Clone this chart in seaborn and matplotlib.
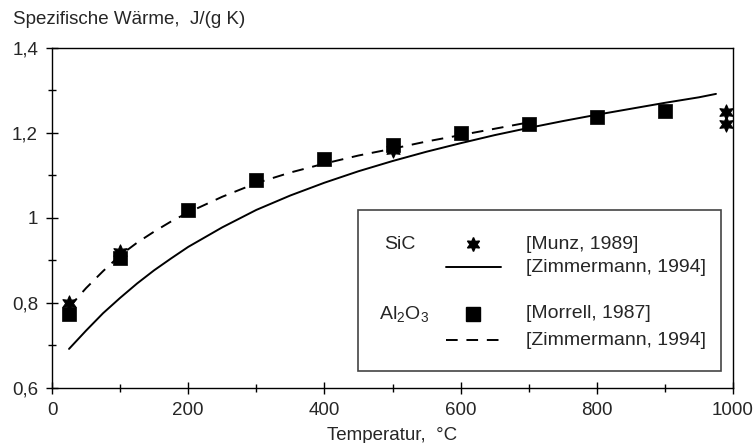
import matplotlib
matplotlib.use("Agg")
import matplotlib.pyplot as plt
import seaborn as sns
import pandas as pd
from matplotlib.patches import Rectangle
from matplotlib.lines import Line2D
from matplotlib.ticker import MultipleLocator

sns.set_style("white")
plt.rcParams['font.family'] = ['Liberation Sans', 'DejaVu Sans']

# SiC [Munz, 1989] (stars)
sic_munz_T = [25, 100, 500, 990, 990]
sic_munz_cp = [0.80, 0.92, 1.16, 1.25, 1.221]
# SiC [Zimmermann, 1994] (solid)
sic_zim_T = [25, 50, 75, 100, 125, 150, 175, 200, 250, 300, 350, 400, 450, 500,
             550, 600, 650, 700, 750, 800, 850, 900, 950, 975]
sic_zim_cp = [0.692, 0.735, 0.776, 0.812, 0.846, 0.877, 0.905, 0.932, 0.978, 1.019,
              1.053, 1.083, 1.110, 1.134, 1.156, 1.176, 1.195, 1.212, 1.228, 1.243,
              1.257, 1.271, 1.284, 1.292]
# Al2O3 [Morrell, 1987] (squares)
al_mor_T = [25, 100, 200, 300, 400, 500, 600, 700, 800, 900]
al_mor_cp = [0.775, 0.907, 1.019, 1.089, 1.138, 1.172, 1.199, 1.221, 1.238, 1.252]
# Al2O3 [Zimmermann, 1994] (dashed)
al_zim_T = [25, 50, 75, 100, 125, 150, 175, 200, 250, 300, 350, 400, 450, 500,
            550, 600, 650, 700]
al_zim_cp = [0.79, 0.835, 0.875, 0.912, 0.942, 0.968, 0.992, 1.013, 1.05, 1.082,
             1.107, 1.128, 1.147, 1.163, 1.18, 1.195, 1.21, 1.225]

yticks = [0.6, 0.8, 1.0, 1.2, 1.4]
ytick_labels = ["0,6", "0,8", "1", "1,2", "1,4"]
xticks = [0, 200, 400, 600, 800, 1000]
xtick_labels = ["0", "200", "400", "600", "800", "1000"]

fig = plt.figure(figsize=(7.54, 4.43), dpi=100)
ax = fig.add_axes([52/754, 55/443, 681/754, 340/443])

sns.lineplot(x=sic_zim_T, y=sic_zim_cp, ax=ax, color="black", lw=1.4)
sns.lineplot(x=al_zim_T, y=al_zim_cp, ax=ax, color="black", lw=1.4)
ax.lines[-1].set_dashes([6, 4.5])
sns.scatterplot(x=sic_munz_T, y=sic_munz_cp, ax=ax, marker=(6, 1, 0), s=120,
                color="black", edgecolor="black", linewidth=0.8, zorder=3)
sns.scatterplot(x=al_mor_T, y=al_mor_cp, ax=ax, marker="s", s=100,
                color="black", edgecolor="black", linewidth=0.5, zorder=4)

ax.set_xlim(0, 1000)
ax.set_ylim(0.6, 1.4)
ax.set_xticks(xticks)
ax.set_xticklabels(xtick_labels)
ax.set_yticks(yticks)
ax.set_yticklabels(ytick_labels)
ax.xaxis.set_minor_locator(MultipleLocator(100))
ax.yaxis.set_minor_locator(MultipleLocator(0.1))
ax.tick_params(axis="both", which="major", direction="inout", length=8, width=1,
               labelsize=13.5, color="black", bottom=True, left=True, pad=6)
ax.tick_params(axis="both", which="minor", direction="inout", length=6, width=1,
               color="black", bottom=True, left=True)
for side in ["left", "bottom", "top", "right"]:
    ax.spines[side].set_color("black")
    ax.spines[side].set_linewidth(1.0)
    ax.spines[side].set_visible(True)

ax.set_xlabel("Temperatur,  °C", fontsize=13.5, labelpad=6)
ax.set_ylabel("")
fig.text(13/754, 1 - 20/443, "Spezifische Wärme,  J/(g K)", fontsize=13.5,
         ha="left", va="center")

# custom legend
ax.add_patch(Rectangle((0.449, 0.05), 0.533, 0.474, transform=ax.transAxes,
                       facecolor="white", edgecolor="#444444", lw=1.2, zorder=5))
fs = 14
ax.text(0.487, 0.421, "SiC", transform=ax.transAxes, fontsize=fs, va="center", zorder=6)
ax.add_line(Line2D([0.618], [0.424], transform=ax.transAxes, marker=(6, 1, 0),
                   markersize=10, color="black", zorder=6))
ax.text(0.696, 0.421, "[Munz, 1989]", transform=ax.transAxes, fontsize=fs, va="center", zorder=6)
ax.add_line(Line2D([0.579, 0.659], [0.356, 0.356], transform=ax.transAxes,
                   color="black", lw=1.4, zorder=6))
ax.text(0.696, 0.353, "[Zimmermann, 1994]", transform=ax.transAxes, fontsize=fs, va="center", zorder=6)
ax.text(0.480, 0.215, "Al$_{\\mathregular{2}}$O$_{\\mathregular{3}}$", transform=ax.transAxes,
        fontsize=fs, va="center", zorder=6)
ax.add_line(Line2D([0.618], [0.218], transform=ax.transAxes, marker="s",
                   markersize=9.5, color="black", zorder=6))
ax.text(0.696, 0.218, "[Morrell, 1987]", transform=ax.transAxes, fontsize=fs, va="center", zorder=6)
dl = Line2D([0.579, 0.659], [0.141, 0.141], transform=ax.transAxes,
            color="black", lw=1.4, zorder=6)
dl.set_dashes([6, 4.5])
ax.add_line(dl)
ax.text(0.696, 0.141, "[Zimmermann, 1994]", transform=ax.transAxes, fontsize=fs, va="center", zorder=6)

fig.savefig("out.png", dpi=100)
